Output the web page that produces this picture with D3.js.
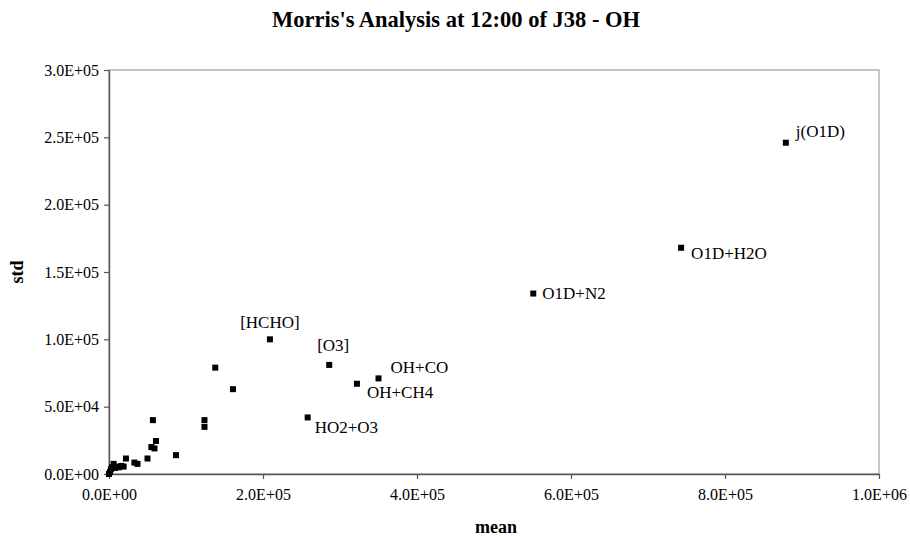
<!DOCTYPE html>
<html><head><meta charset="utf-8">
<script src="https://cdn.jsdelivr.net/npm/d3@7"></script>
<style>body{margin:0;background:#fff}</style>
</head><body><svg id="c" width="910" height="537"></svg>
<script>
// ---- data ----
const meanValues = [0, 1200, 2500, 4000, 6000, 8000, 10000, 13000, 16000, 19000, 22000, 33000, 37000, 50000, 87000, 55000, 59000, 61000, 57000, 124000, 124000, 138000, 161000, 209000, 258000, 286000, 322000, 350000, 551000, 743000, 879000];
const stdValues  = [0, 1500, 3500, 5000, 7500, 4500, 5500, 5000, 6000, 5500, 11500, 8500, 7500, 11500, 14000, 20000, 19000, 24500, 40000, 40000, 35000, 79000, 63000, 100000, 42000, 81000, 67000, 71000, 134000, 168000, 246000];
const pointLabels = ["", "", "", "", "", "", "", "", "", "", "", "", "", "", "", "", "", "", "", "", "", "", "", "[HCHO]", "HO2+O3", "[O3]", "OH+CH4", "OH+CO", "O1D+N2", "O1D+H2O", "j(O1D)"];
const xTicks = [0, 200000, 400000, 600000, 800000, 1000000];
const yTicks = [0, 50000, 100000, 150000, 200000, 250000, 300000];
const titleText = "Morris's Analysis at 12:00 of J38 - OH";
const xTitle = "mean";
const yTitle = "std";

// label placement (style only)
const labelPlace = {
  "[HCHO]": {dx: 0, dy: -17, anchor: "middle"},
  "[O3]": {dx: 4, dy: -20, anchor: "middle"},
  "OH+CO": {dx: 12, dy: -11, anchor: "start"},
  "OH+CH4": {dx: 10, dy: 8, anchor: "start"},
  "HO2+O3": {dx: 7, dy: 10, anchor: "start"},
  "O1D+N2": {dx: 9, dy: 0, anchor: "start"},
  "O1D+H2O": {dx: 10, dy: 5, anchor: "start"},
  "j(O1D)": {dx: 10, dy: -12, anchor: "start"}
};

const W = 910, H = 537;
const m = {left: 109, top: 70, right: 31, bottom: 63};
const iw = W - m.left - m.right, ih = H - m.top - m.bottom;
const font = "'Liberation Serif','Times New Roman',serif";

const svg = d3.select("#c");
const g = svg.append("g").attr("transform", `translate(${m.left},${m.top})`);

const x = d3.scaleLinear().domain([0, 1000000]).range([0, iw]);
const y = d3.scaleLinear().domain([0, 300000]).range([ih, 0]);

function fmt(d) {
  const [mant, e] = d.toExponential(1).split("e");
  return mant + "E" + e[0] + e.slice(1).padStart(2, "0");
}

// plot border
g.append("rect").attr("x", 0).attr("y", 0).attr("width", iw).attr("height", ih)
  .attr("fill", "none").attr("stroke", "#8c8c8c").attr("stroke-width", 1);

const xAxis = g.append("g").attr("transform", `translate(0,${ih})`)
  .call(d3.axisBottom(x).tickValues(xTicks).tickFormat(fmt).tickSizeInner(5).tickSizeOuter(0).tickPadding(10));
const yAxis = g.append("g")
  .call(d3.axisLeft(y).tickValues(yTicks).tickFormat(fmt).tickSizeInner(5).tickSizeOuter(0).tickPadding(5));

[xAxis, yAxis].forEach(a => {
  a.selectAll("path").attr("stroke", "#555").attr("stroke-width", 1.4);
  a.selectAll("line").attr("stroke", "#555").attr("stroke-width", 1.2);
  a.selectAll("text").attr("font-family", font).attr("font-size", 16).attr("fill", "#000");
});

const pts = meanValues.map((v, i) => ({mx: v, sd: stdValues[i], label: pointLabels[i]}));
const ms = 6;
g.selectAll("rect.pt").data(pts).enter().append("rect")
  .attr("class", "pt")
  .attr("x", d => x(d.mx) - ms / 2).attr("y", d => y(d.sd) - ms / 2)
  .attr("width", ms).attr("height", ms).attr("fill", "#000");

g.selectAll("text.lbl").data(pts.filter(d => d.label)).enter().append("text")
  .attr("class", "lbl")
  .attr("x", d => x(d.mx) + labelPlace[d.label].dx)
  .attr("y", d => y(d.sd) + labelPlace[d.label].dy)
  .attr("dy", "0.35em")
  .attr("text-anchor", d => labelPlace[d.label].anchor)
  .attr("font-family", font).attr("font-size", 17).attr("fill", "#000")
  .text(d => d.label);

svg.append("text").attr("x", W / 2 + 1).attr("y", 27)
  .attr("text-anchor", "middle").attr("font-family", font).attr("font-weight", "bold").attr("font-size", 22.5)
  .text(titleText);

svg.append("text").attr("x", m.left + iw / 2 + 2).attr("y", 533)
  .attr("text-anchor", "middle").attr("font-family", font).attr("font-weight", "bold").attr("font-size", 18)
  .text(xTitle);

svg.append("text").attr("transform", `translate(23,${m.top + ih / 2}) rotate(-90)`)
  .attr("text-anchor", "middle").attr("font-family", font).attr("font-weight", "bold").attr("font-size", 18)
  .text(yTitle);
</script>
</body></html>
